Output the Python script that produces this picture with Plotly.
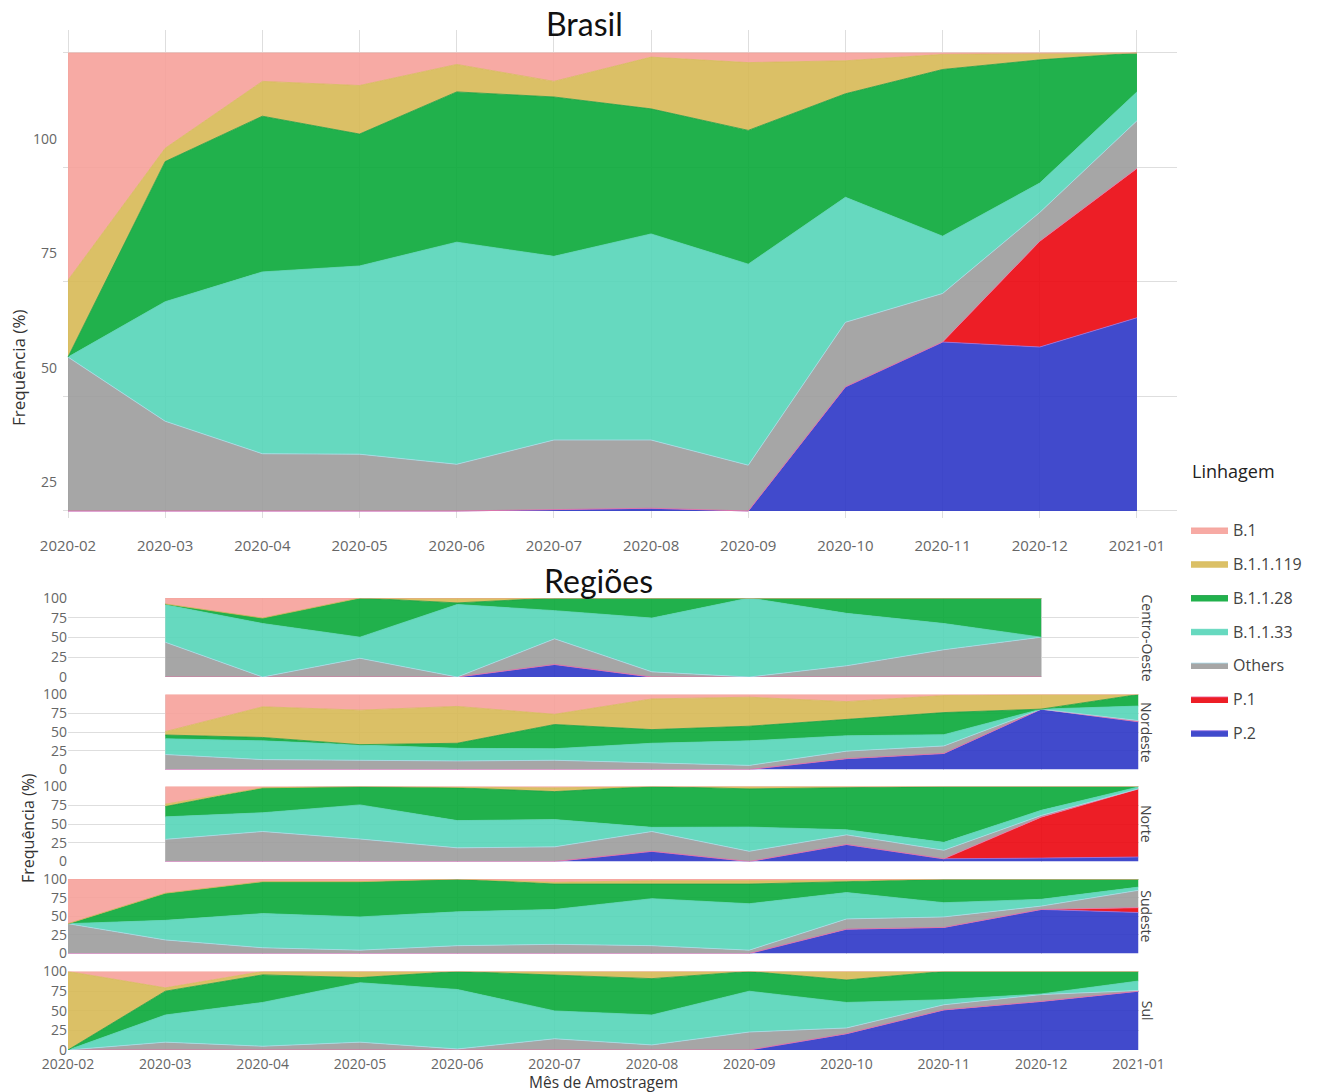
import plotly.graph_objects as go

W, H = 1322, 1092

months = ["2020-02", "2020-03", "2020-04", "2020-05", "2020-06", "2020-07",
          "2020-08", "2020-09", "2020-10", "2020-11", "2020-12", "2021-01"]

# stacking order, bottom to top
lineages = ["P.2", "P.1", "Others", "B.1.1.33", "B.1.1.28", "B.1.1.119", "B.1"]

# ---- Brasil (% of sequenced genomes per month) ----
br_p2 = [0, 0, 0, 0, 0, 0.3, 0.6, 0, 27.1, 36.9, 35.8, 42.2]
br_p1 = [0, 0, 0, 0, 0, 0, 0, 0, 0, 0, 23.1, 32.6]
br_others = [33.6, 19.6, 12.5, 12.4, 10.2, 15.2, 14.9, 10.0, 14.1, 10.6, 6.3, 10.4]
br_b1133 = [0, 26.1, 39.7, 41.1, 48.5, 40.1, 45.0, 43.9, 27.3, 12.5, 6.4, 6.3]
br_b1128 = [0, 30.6, 34.0, 28.8, 32.8, 34.8, 27.3, 29.2, 22.6, 36.4, 26.9, 8.5]
br_b11119 = [16.8, 2.9, 7.6, 10.6, 6.0, 3.4, 11.3, 14.8, 7.2, 3.3, 1.4, 0]
br_b1 = [49.6, 20.8, 6.2, 7.1, 2.5, 6.2, 0.9, 2.1, 1.7, 0.3, 0.1, 0]

# ---- Centro-Oeste ----
co_p2 = [None, 0, 0, 0, 0, 15.9, 0, 0, 0, 0, 0, None]
co_p1 = [None, 0, 0, 0, 0, 0, 0, 0, 0, 0, 0, None]
co_others = [None, 44, 0, 23.7, 0, 32.4, 6.5, 0, 14.2, 34.5, 50.4, None]
co_b1133 = [None, 47.4, 67.7, 26.7, 91.8, 35.7, 68.1, 100, 66.4, 33.2, 0, None]
co_b1128 = [None, 1, 6.9, 49.6, 2, 16, 25.4, 0, 19.4, 32.3, 49.6, None]
co_b11119 = [None, 0, 0, 0, 6.2, 0, 0, 0, 0, 0, 0, None]
co_b1 = [None, 7.6, 25.4, 0, 0, 0, 0, 0, 0, 0, 0, None]

# ---- Nordeste ----
ne_p2 = [None, 0, 0, 0, 0, 0, 0, 0, 14.5, 21.4, 80.5, 63.7]
ne_p1 = [None, 0, 0, 0, 0, 0, 0, 0, 0, 0, 0, 0]
ne_others = [None, 20, 13.2, 12.3, 11.4, 12.3, 9.1, 5.5, 10.0, 10.0, 0, 1.5]
ne_b1133 = [None, 21, 25, 20.4, 16.8, 15.4, 25.9, 32.7, 20.5, 15.0, 0, 19.4]
ne_b1128 = [None, 5, 4.5, 0.5, 6.8, 32.3, 18.2, 19.5, 21.8, 29.5, 0, 15.4]
ne_b11119 = [None, 4.5, 40.9, 46.1, 49.1, 13.6, 40.9, 38.7, 23.7, 22.7, 19.5, 0]
ne_b1 = [None, 49.5, 16.4, 20.9, 15.9, 26.4, 5.9, 3.6, 9.5, 1.4, 0, 0]

# ---- Norte ----
no_p2 = [None, 0, 0, 0, 0, 0, 13.6, 0, 22.7, 3.6, 4.5, 6]
no_p1 = [None, 0, 0, 0, 0, 0, 0, 0, 0, 0, 54.6, 90.9]
no_others = [None, 29.5, 40, 30, 18.2, 19.5, 26.4, 13.6, 12.8, 11.4, 2.3, 0]
no_b1133 = [None, 30, 25, 45.5, 36.3, 36.4, 5.5, 32.3, 6.8, 10.5, 6.8, 2.5]
no_b1128 = [None, 13.7, 33.2, 24.5, 43.7, 37.3, 54.5, 50.9, 55.9, 74.5, 31.8, 0.6]
no_b11119 = [None, 3.2, 0, 0, 0.8, 5, 0, 3.2, 1.8, 0, 0, 0]
no_b1 = [None, 23.6, 1.8, 0, 1, 1.8, 0, 0, 0, 0, 0, 0]

# ---- Sudeste ----
se_p2 = [0, 0, 0, 0, 0, 0, 0, 0, 32.7, 35, 59.1, 55]
se_p1 = [0, 0, 0, 0, 0, 0, 0, 0, 0, 0, 0, 6.5]
se_others = [40, 18.2, 7.7, 4.5, 10.5, 12.3, 10.5, 4.5, 13.7, 14.1, 4.5, 23.3]
se_b1133 = [0, 26.3, 45.9, 44.6, 45.4, 46.8, 63.1, 62.3, 35.4, 19.1, 9.1, 4.3]
se_b1128 = [0, 36.4, 42.8, 47.3, 44.1, 34.1, 19.6, 26.4, 14.6, 31.8, 27.3, 10.9]
se_b11119 = [0, 0, 0, 0, 0, 2.3, 4.5, 4.5, 1.3, 0, 0, 0]
se_b1 = [60, 19.1, 3.6, 3.6, 0, 4.5, 2.3, 2.3, 2.3, 0, 0, 0]

# ---- Sul ----
sul_p2 = [0, 0, 0, 0, 0, 0, 0, 0, 20.8, 51.1, 61.9, 74.9]
sul_p1 = [0, 0, 0, 0, 0, 0, 0, 0, 0, 0, 0, 0]
sul_others = [0, 10, 4.8, 10, 1.3, 14.3, 6.5, 22.9, 7.3, 6.5, 8.7, 0.9]
sul_b1133 = [0, 34.6, 55.8, 75.7, 75.8, 35.5, 38.1, 52, 32.5, 6.5, 0.8, 12.1]
sul_b1128 = [0, 30.3, 35.1, 6.5, 22.9, 45.9, 46.3, 25.1, 28.6, 35.9, 28.6, 12.1]
sul_b11119 = [100, 4.3, 4.3, 7.8, 0, 4.3, 9.1, 0, 10.8, 0, 0, 0]
sul_b1 = [0, 20.8, 0, 0, 0, 0, 0, 0, 0, 0, 0, 0]

regions = ["Centro-Oeste", "Nordeste", "Norte", "Sudeste", "Sul"]

tick_labels_brasil = ["25", "50", "75", "100"]
tick_labels_region = ["0", "25", "50", "75", "100"]

# ---- styling ----
fill_colors = {
    "B.1": "rgba(246,161,154,0.9)",
    "B.1.1.119": "rgba(215,185,85,0.9)",
    "B.1.1.28": "rgba(9,168,56,0.9)",
    "B.1.1.33": "rgba(85,213,184,0.9)",
    "Others": "rgba(156,156,156,0.9)",
    "P.1": "rgba(235,5,14,0.9)",
    "P.2": "rgba(44,54,198,0.9)",
}
line_colors = {
    "B.1": "#f4a39c",
    "B.1.1.119": "#d6ba5c",
    "B.1.1.28": "#1a9e44",
    "B.1.1.33": "#5fd5bb",
    "Others": "#a9dbe9",
    "P.1": "#ee6fa4",
    "P.2": "#9b72e3",
}
# legend lists the top of the stack first
legend_rank = {name: len(lineages) - i for i, name in enumerate(lineages)}

panels = [
    ("x", "y", "brasil", [br_p2, br_p1, br_others, br_b1133, br_b1128, br_b11119, br_b1], True),
    ("x2", "y2", "co", [co_p2, co_p1, co_others, co_b1133, co_b1128, co_b11119, co_b1], False),
    ("x3", "y3", "ne", [ne_p2, ne_p1, ne_others, ne_b1133, ne_b1128, ne_b11119, ne_b1], False),
    ("x4", "y4", "no", [no_p2, no_p1, no_others, no_b1133, no_b1128, no_b11119, no_b1], False),
    ("x5", "y5", "se", [se_p2, se_p1, se_others, se_b1133, se_b1128, se_b11119, se_b1], False),
    ("x6", "y6", "sul", [sul_p2, sul_p1, sul_others, sul_b1133, sul_b1128, sul_b11119, sul_b1], False),
]

fig = go.Figure()
for xa, ya, group, series, legend_on in panels:
    for name, vals in zip(lineages, series):
        xs = [m for m, v in zip(months, vals) if v is not None]
        ys = [v for v in vals if v is not None]
        fig.add_trace(go.Scatter(
            x=xs, y=ys, name=name, xaxis=xa, yaxis=ya,
            mode="lines", stackgroup=group, groupnorm="percent",
            line=dict(width=0.8, color=line_colors[name]),
            fillcolor=fill_colors[name],
            legendgroup=name, legendrank=legend_rank[name], showlegend=legend_on,
            hovertemplate="%{x}: %{y:.1f}%<extra>" + name + "</extra>",
        ))

# empty trace that carries the labelled frequency axis of the Brasil panel
fig.add_trace(go.Scatter(x=[], y=[], xaxis="x", yaxis="y7", showlegend=False, hoverinfo="skip"))

grid = "#dedede"
tick_font = dict(family="Open Sans", size=14, color="#666")

layout = dict(
    width=W, height=H,
    margin=dict(l=0, r=0, t=0, b=0, autoexpand=False),
    paper_bgcolor="white", plot_bgcolor="white",
    font=dict(family="Open Sans", color="#444"),
    xaxis=dict(domain=[63 / W, 1177 / W], anchor="y", type="category",
               categoryorder="array", categoryarray=months,
               range=[-0.0515, 11.412], tickvals=months,
               showgrid=True, gridcolor=grid, zeroline=False, automargin=False,
               tickfont=dict(family="Open Sans", size=15, color="#666"),
               ticklabelstandoff=17),
    yaxis=dict(domain=[1 - 518 / H, 1 - 30 / H], anchor="x",
               range=[-1.53, 105.02], tickvals=[0, 25, 50, 75, 100],
               showticklabels=False, showgrid=True, gridcolor=grid,
               zeroline=False, automargin=False),
    yaxis7=dict(overlaying="y", anchor="x", side="left",
                range=[17.22, 123.77], tickvals=[int(t) for t in tick_labels_brasil],
                ticktext=tick_labels_brasil, automargin=False, ticklabelstandoff=5,
                showgrid=False, zeroline=False, tickfont=tick_font),
    legend=dict(x=1186 / W, y=1 - 513 / H, xanchor="left", yanchor="top",
                font=dict(size=16, color="#444"),
                traceorder="grouped", tracegroupgap=10, itemwidth=37,
                bgcolor="rgba(0,0,0,0)"),
    showlegend=True,
)

facet_px = [(598, 677), (694.5, 769.5), (786.5, 861.5), (879, 953.5), (971.5, 1050)]
for i, (top, bot) in enumerate(facet_px):
    k = i + 2
    layout[f"xaxis{k}"] = dict(
        domain=[68 / W, 1138.5 / W], anchor=f"y{k}", type="category",
        categoryorder="array", categoryarray=months, range=[0, 11],
        tickvals=months, showticklabels=(k == 6), automargin=False,
        showgrid=True, gridcolor=grid, zeroline=False,
        tickfont=tick_font, ticklabelstandoff=4)
    layout[f"yaxis{k}"] = dict(
        domain=[1 - bot / H, 1 - top / H], anchor=f"x{k}",
        range=[0, 100], tickvals=[int(t) for t in tick_labels_region],
        ticktext=tick_labels_region, automargin=False,
        showgrid=True, gridcolor=grid, zeroline=False, tickfont=tick_font)

fig.update_layout(**layout)

annotations = [
    dict(text="Brasil", x=584 / W, y=1 - 23 / H, font=dict(family="Lato", size=32, color="#111")),
    dict(text="Regiões", x=598 / W, y=1 - 580 / H, font=dict(family="Lato", size=32, color="#111")),
    dict(text="Linhagem", x=1233 / W, y=1 - 471 / H, font=dict(size=18, color="#222")),
    dict(text="Frequência (%)", x=18 / W, y=1 - 368 / H, textangle=-90,
         font=dict(size=17, color="#333")),
    dict(text="Frequência (%)", x=28 / W, y=1 - 828 / H, textangle=-90,
         font=dict(size=16, color="#333")),
    dict(text="Mês de Amostragem", x=603 / W, y=1 - 1081.5 / H,
         font=dict(size=15.5, color="#333")),
]
for (top, bot), name in zip(facet_px, regions):
    annotations.append(dict(text=name, x=1147 / W, y=1 - (top + bot) / 2 / H, textangle=90,
                            font=dict(size=14, color="#444")))
for a in annotations:
    a.update(xref="paper", yref="paper", showarrow=False, xanchor="center", yanchor="middle")
fig.update_layout(annotations=annotations)

fig.write_html("out.html")
